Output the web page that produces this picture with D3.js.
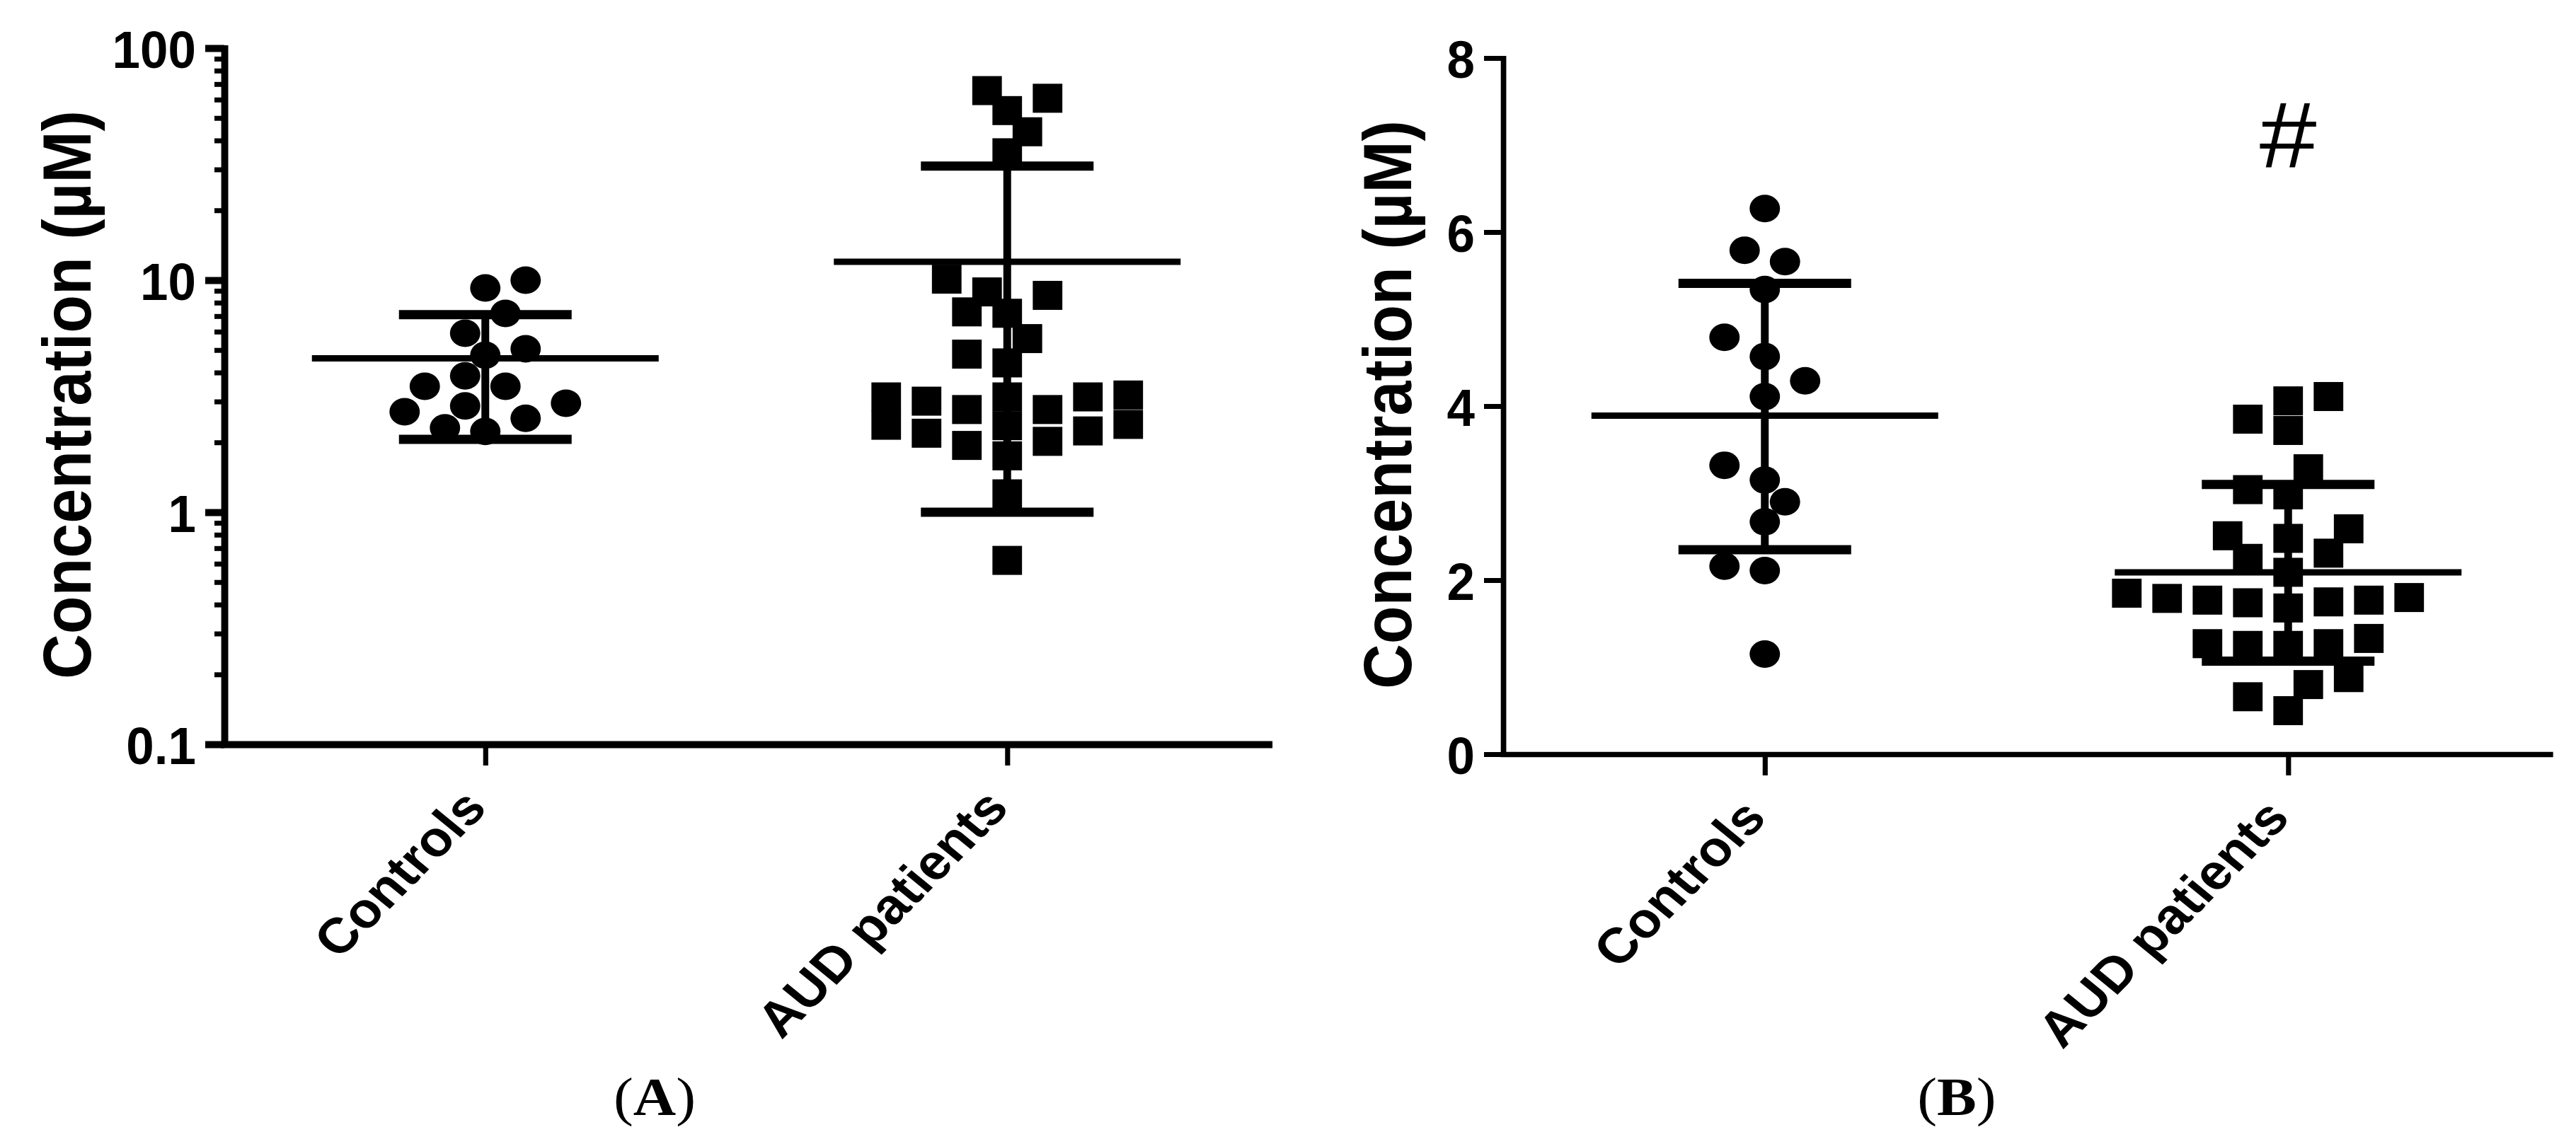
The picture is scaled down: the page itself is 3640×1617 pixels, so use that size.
<!DOCTYPE html>
<html>
<head>
<meta charset="utf-8">
<script src="https://cdn.jsdelivr.net/npm/d3@7"></script>
<style>
  html, body { margin: 0; padding: 0; background: #fff; }
  svg { display: block; }
</style>
</head>
<body>
<div id="chart-area"></div>
<script>
// groups on the x axis
const groups = ["Controls", "AUD patients"];

// panel A, concentration (µM) on a log axis
const controlsA = [10.0, 9.25, 7.19, 5.91, 4.75, 5.06, 3.49, 3.49, 3.87, 2.87, 2.95, 2.54, 2.71, 2.23, 2.31];
const audA = [65.6, 60.8, 53.8, 43.6, 35.4, 10.1, 8.6, 8.9, 7.2, 7.3, 5.6, 4.8, 4.4, 3.14, 3.14,
              3.01, 3.14, 3.2, 2.77, 2.77, 2.39, 2.36, 2.37, 2.19, 2.24, 1.94, 2.02, 1.75, 1.2, 0.62];
// mean and error bar ends, per group
const meanA = [4.6, 12.0];
const upperA = [7.1, 31.0];
const lowerA = [2.06, 1.0];
const ticksA = [0.1, 1, 10, 100];
const tickLabelsA = ["0.1", "1", "10", "100"];

// panel B, linear axis
const controlsB = [6.27, 5.79, 5.66, 5.34, 4.79, 4.57, 4.29, 4.11, 3.32, 3.15, 2.90, 2.67, 2.16, 2.11, 1.15];
const audB = [4.11, 4.06, 3.85, 3.72, 3.28, 2.98, 3.04, 2.59, 2.51, 2.48, 2.31, 2.25, 2.09, 1.80, 1.77,
              1.74, 1.68, 1.75, 1.77, 1.79, 1.85, 1.27, 1.25, 1.25, 1.27, 1.33, 0.80, 0.88, 0.66, 0.50];
const meanB = [3.89, 2.09];
const upperB = [5.41, 3.10];
const lowerB = [2.35, 1.07];
const ticksB = [0, 2, 4, 6, 8];
const tickLabelsB = ["0", "2", "4", "6", "8"];

const W = 3640, H = 1617;
const K = 1.1;      // the source figure is stretched a little sideways
const NARROW = 0.86; // tick numbers are set in a condensed face
const SANS = "'Liberation Sans', Arial, sans-serif";
const SERIF = "'Liberation Serif', 'Times New Roman', serif";

let svg = d3.select("#chart-area")
        .append("svg")
        .attr("width", W)
        .attr("height", H);

svg.append("rect").attr("width", W).attr("height", H).attr("fill", "#fff");

let root = svg.append("g").attr("transform", `scale(${K},1)`);

// simple beeswarm: lowest values first, each point takes the free slot nearest the centre
function swarm(values, y, half, minDist) {
    let pts = values.map(v => ({v: v, py: y(v)})).sort((a, b) => b.py - a.py);
    let placed = [];
    let left = 0, right = 0;
    pts.forEach(p => {
        let free = s => placed.every(q => Math.hypot((q.slot - s) * half, q.py - p.py) >= minDist);
        for (let k = 0; k < 60; k++) {
            if (k === 0) {
                if (free(0)) { p.slot = 0; break; }
                continue;
            }
            let sides = left <= right ? [-k, k] : [k, -k];
            let s = sides.find(free);
            if (s !== undefined) {
                p.slot = s;
                if (s < 0) left++; else right++;
                break;
            }
        }
        placed.push(p);
    });
    return pts;
}

function panel(cfg) {
    let g = root.append("g");
    let x = d3.scalePoint().domain(groups).range([cfg.left / K, cfg.right / K]).padding(0.5);
    let y = cfg.y;
    let bottom = y.range()[0];
    let tickLen = 27 / K, pad = 13 / K;

    // minor ticks (log panel only)
    if (cfg.minor) {
        g.append("g")
            .attr("transform", `translate(${cfg.left / K},0)`)
            .call(d3.axisLeft(y).tickValues(cfg.minor).tickFormat("").tickSize(14 / K).tickSizeOuter(0))
            .call(a => a.select(".domain").remove())
            .call(a => a.selectAll("line").attr("stroke", "#000").attr("stroke-width", 7));
    }

    // y axis
    g.append("g")
        .attr("transform", `translate(${cfg.left / K},0)`)
        .call(d3.axisLeft(y).tickValues(cfg.ticks).tickFormat((d, i) => cfg.labels[i])
                .tickSize(tickLen).tickSizeOuter(0).tickPadding(pad))
        .call(a => a.select(".domain").attr("stroke", "#000").attr("stroke-width", cfg.axisW)
                .attr("stroke-linecap", "square"))
        .call(a => a.selectAll(".tick line").attr("stroke", "#000").attr("stroke-width", cfg.tickW))
        .call(a => a.selectAll("text")
                .attr("fill", "#000")
                .attr("x", -(tickLen + pad) / NARROW)
                .attr("dy", "0.36em")
                .attr("transform", `scale(${NARROW},1)`)
                .style("font-family", SANS)
                .style("font-weight", "bold")
                .style("font-size", "75px"));

    // x axis with slanted group names
    g.append("g")
        .attr("transform", `translate(0,${bottom})`)
        .call(d3.axisBottom(x).tickSize(30).tickSizeOuter(0))
        .call(a => a.select(".domain").attr("stroke", "#000").attr("stroke-width", cfg.xAxisW)
                .attr("stroke-linecap", "square"))
        .call(a => a.selectAll(".tick line").attr("stroke", "#000").attr("stroke-width", 6.5))
        .call(a => a.selectAll("text")
                .attr("x", 0).attr("y", 0).attr("dy", null)
                .attr("transform", `translate(${4 / K},92) rotate(-48)`)
                .attr("fill", "#000")
                .style("text-anchor", "end")
                .style("font-family", SANS)
                .style("font-weight", "bold")
                .style("font-size", "70px"));

    // y title
    g.append("text")
        .attr("transform", `translate(${cfg.titleX / K},${cfg.titleY}) rotate(-90)`)
        .attr("text-anchor", "middle")
        .style("font-family", SANS)
        .style("font-weight", "bold")
        .style("font-size", "88px")
        .text("Concentration (µM)");

    // points
    let half = 28.5, minDist = 40;
    cfg.series.forEach((vals, gi) => {
        let cx = x(groups[gi]);
        let pts = swarm(vals, y, half, minDist);
        if (gi === 0) {
            g.selectAll(null)
                .data(pts)
                .enter()
                .append("circle")
                .attr("cx", d => cx + d.slot * half / K)
                .attr("cy", d => d.py)
                .attr("r", 19.5)
                .attr("fill", "#000");
        } else {
            g.selectAll(null)
                .data(pts)
                .enter()
                .append("rect")
                .attr("x", d => cx + d.slot * half / K - 19)
                .attr("y", d => d.py - 20.5)
                .attr("width", 38)
                .attr("height", 41)
                .attr("fill", "#000");
        }
    });

    // mean and SD bars
    groups.forEach((name, gi) => {
        let cx = x(name);
        g.append("line")
            .attr("x1", cx).attr("x2", cx)
            .attr("y1", y(cfg.lower[gi])).attr("y2", y(cfg.upper[gi]))
            .attr("stroke", "#000").attr("stroke-width", 10);
        [cfg.upper[gi], cfg.lower[gi]].forEach(v => {
            g.append("line")
                .attr("x1", cx - 122 / K).attr("x2", cx + 122 / K)
                .attr("y1", y(v)).attr("y2", y(v))
                .attr("stroke", "#000").attr("stroke-width", 13);
        });
        g.append("line")
            .attr("x1", cx - 245 / K).attr("x2", cx + 245 / K)
            .attr("y1", y(cfg.mean[gi])).attr("y2", y(cfg.mean[gi]))
            .attr("stroke", "#000").attr("stroke-width", 9);
    });

    if (cfg.mark) {
        g.append("text")
            .attr("x", x(groups[1]))
            .attr("y", y(cfg.mark))
            .attr("text-anchor", "middle")
            .style("font-family", SANS)
            .style("font-size", "132px")
            .text("#");
    }

    // panel letter
    let lab = g.append("text")
        .attr("x", cfg.labelX / K)
        .attr("y", 1576)
        .attr("text-anchor", "middle")
        .style("font-family", SERIF)
        .style("font-size", "76px");
    lab.append("tspan").text("(");
    lab.append("tspan").style("font-weight", "bold").text(cfg.letter);
    lab.append("tspan").text(")");
}

// log minor ticks 2..9 in each decade
let minorA = [];
[0.1, 1, 10].forEach(d => d3.range(2, 10).forEach(m => minorA.push(+(d * m).toPrecision(2))));

panel({
    left: 317, right: 1792,
    y: d3.scaleLog().domain([0.1, 100]).range([1052, 68]),
    ticks: ticksA, labels: tickLabelsA, minor: minorA,
    axisW: 9, xAxisW: 10, tickW: 10,
    titleX: 128, titleY: 558,
    labelX: 925, letter: "A",
    series: [controlsA, audA], mean: meanA, upper: upperA, lower: lowerA
});

panel({
    left: 2124, right: 3603,
    y: d3.scaleLinear().domain([0, 8]).range([1066, 82]),
    ticks: ticksB, labels: tickLabelsB,
    axisW: 7, xAxisW: 7.5, tickW: 7,
    titleX: 1994, titleY: 572,
    labelX: 2765, letter: "B",
    series: [controlsB, audB], mean: meanB, upper: upperB, lower: lowerB,
    mark: 6.75
});
</script>
</body>
</html>
